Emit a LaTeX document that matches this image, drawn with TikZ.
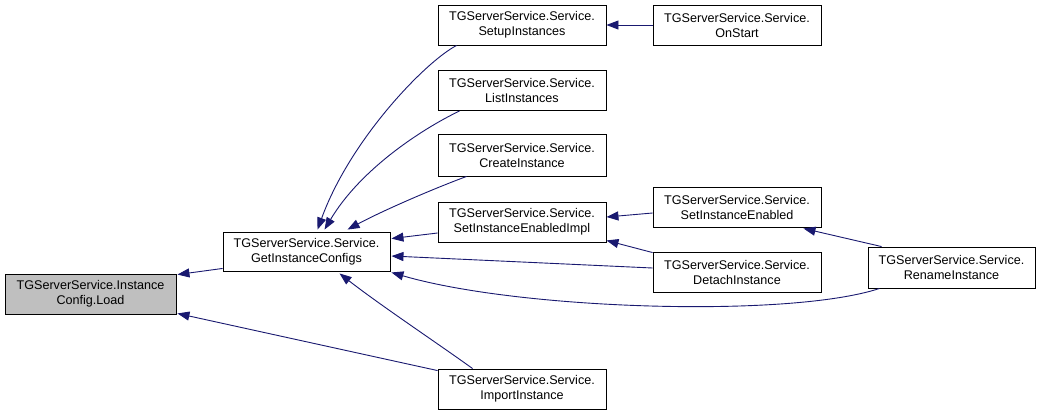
\documentclass[tikz,border=0pt]{standalone}
\usepackage{fontspec}
\setmainfont{Liberation Sans}
\usetikzlibrary{arrows.meta,calc}
\definecolor{edgeblue}{HTML}{191970}
\definecolor{loadgray}{HTML}{BFBFBF}
\begin{document}
\begin{tikzpicture}[x=1pt,y=-1pt,
  fn/.style={draw=black,line width=0.9pt,fill=white,rectangle,minimum width=168pt,minimum height=40pt,
    inner sep=0pt,align=center,font=\fontsize{12.6}{15}\selectfont},
  edge/.style={draw=edgeblue,line width=0.9pt,-{Triangle[length=12pt,width=9pt]}}]
\fill[white] (0,0) rectangle (1040,416);
\useasboundingbox (0,0) rectangle (1040,416);

\node[fn,fill=loadgray,minimum width=171pt] (load) at (90.5,294) {TGServerService.Instance\\Config.Load};
\node[fn,minimum width=167pt,minimum height=39pt] (gic) at (306.5,251.5) {TGServerService.Service.\\GetInstanceConfigs};
\node[fn] (setup) at (522,25) {TGServerService.Service.\\SetupInstances};
\node[fn] (list) at (522,90.5) {TGServerService.Service.\\ListInstances};
\node[fn,minimum height=42pt] (create) at (522,155) {TGServerService.Service.\\CreateInstance};
\node[fn] (sieimpl) at (522,222) {TGServerService.Service.\\SetInstanceEnabledImpl};
\node[fn] (import) at (522,389) {TGServerService.Service.\\ImportInstance};
\node[fn] (onstart) at (737,25) {TGServerService.Service.\\OnStart};
\node[fn] (sie) at (737,207) {TGServerService.Service.\\SetInstanceEnabled};
\node[fn] (detach) at (737,272) {TGServerService.Service.\\DetachInstance};
\node[fn,minimum width=167pt,minimum height=41pt] (rename) at (951.5,267.5) {TGServerService.Service.\\RenameInstance};

% edges (arrow points to the callee)
\draw[edge] ($(gic.south west)+(0,-3)$) -- ($(load.north east)+(1,1)$);
\draw[edge] ($(import.north west)+(0,2)$) -- ($(load.south east)+(1,-1)$);
\draw[edge] ($(setup.south west)+(19,0)$) .. controls (425,62) and (350,140) .. ($(gic.north west)+(95,-2)$);
\draw[edge] ($(list.south west)+(22,0)$) .. controls (420,130) and (360,170) .. ($(gic.north west)+(102,-2)$);
\draw[edge] ($(create.south west)+(29,0)$) .. controls (430,190) and (380,212) .. ($(gic.north west)+(125,-2)$);
\draw[edge] ($(sieimpl.west)+(0,11)$) -- ($(gic.north east)+(1,7)$);
\draw[edge] ($(detach.west)+(0,-4)$) -- ($(gic.east)+(1,4.5)$);
\draw[edge] ($(rename.south west)+(12,0)$) .. controls (790,318) and (520,310) .. ($(gic.south east)+(1,1)$);
\draw[edge] ($(import.north west)+(35,0)$) .. controls (440,345) and (380,305) .. ($(gic.south west)+(117,2)$);
\draw[edge] (onstart.west) -- (setup.east);
\draw[edge] ($(sie.west)+(0,6)$) -- ($(sieimpl.east)+(0,-5)$);
\draw[edge] ($(detach.north west)+(0,1)$) -- ($(sieimpl.south east)+(0,-2)$);
\draw[edge] ($(rename.north west)+(14,0)$) -- ($(sie.south east)+(-18,1)$);
\end{tikzpicture}
\end{document}
